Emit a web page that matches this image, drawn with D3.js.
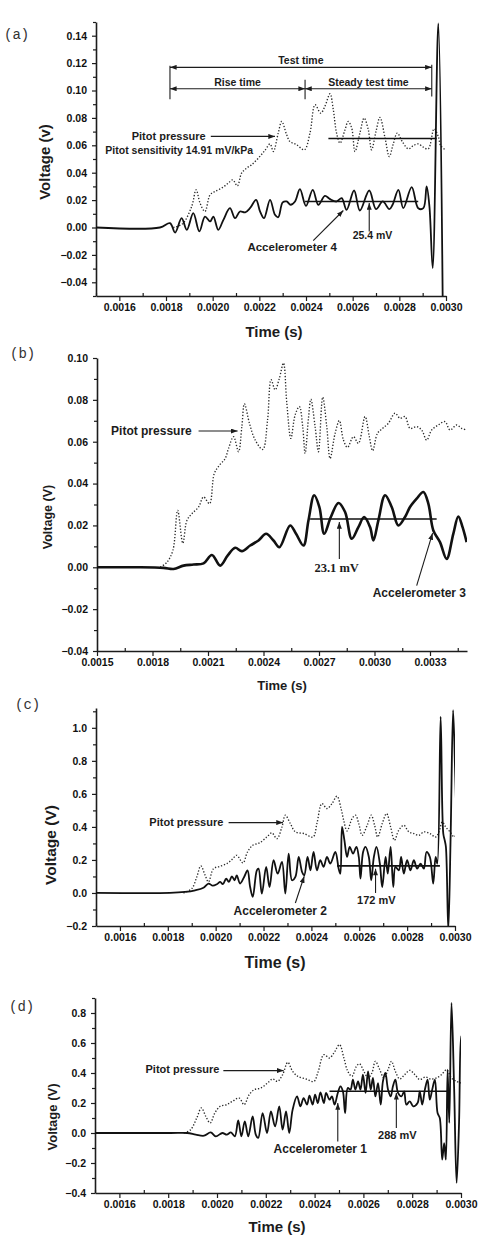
<!DOCTYPE html>
<html>
<head>
<meta charset="utf-8">
<script src="https://cdn.jsdelivr.net/npm/d3@7"></script>
<style>
  body { margin: 0; background: #fff; }
  svg text { font-family: "Liberation Sans", Arial, sans-serif; font-weight: bold; fill: #1c1c1c; }
</style>
</head>
<body>
<div id="chart"></div>
<script>
// ---- panel (a): accelerometer 4 ----
const accelA = [[0.00150,0],[0.001774,0],[0.001817,0.0032],[0.001839,-0.0037],[0.001867,0.0068],[0.001889,-0.0017],[0.001917,0.0105],[0.001943,-0.0029],[0.001967,0.0080],[0.001989,0.0044],[0.002003,0.0080],[0.002024,-0.0017],[0.002046,0.0056],[0.002074,0.0141],[0.002096,0.0068],[0.002117,0.0117],[0.002139,0.0110],[0.002160,0.0141],[0.002186,0.0202],[0.002203,0.0117],[0.002220,0.0068],[0.002246,0.0202],[0.002267,0.0093],[0.002281,0.0075],[0.002300,0.0183],[0.002317,0.0190],[0.002334,0.0166],[0.002353,0.0190],[0.002374,0.0280],[0.002400,0.0158],[0.002429,0.0275],[0.002453,0.0166],[0.002481,0.0231],[0.002503,0.0207],[0.002531,0.0190],[0.002553,0.0214],[0.002574,0.0129],[0.002606,0.0270],[0.002631,0.0124],[0.002671,0.0270],[0.002700,0.0134],[0.002729,0.0190],[0.002757,0.0134],[0.002771,0.0166],[0.002796,0.0275],[0.002817,0.0141],[0.002853,0.0295],[0.002881,0.0141],[0.002903,0.0141],[0.002917,0.0300],[0.002929,0.0153],[0.002943,-0.0297],[0.002967,0.1490],[0.002986,-0.0550]];
const pitotA = [[0.001831,0],[0.001871,0.0027],[0.001910,0.0153],[0.001929,0.0275],[0.001946,0.0178],[0.001967,0.0117],[0.001989,0.0239],[0.002010,0.0263],[0.002039,0.0288],[0.002067,0.0324],[0.002086,0.0348],[0.002106,0.0304],[0.002124,0.0397],[0.002146,0.0434],[0.002167,0.0458],[0.002196,0.0507],[0.002224,0.0563],[0.002246,0.0610],[0.002260,0.0555],[0.002281,0.0689],[0.002296,0.0774],[0.002317,0.0677],[0.002331,0.0628],[0.002360,0.0604],[0.002393,0.0567],[0.002417,0.0689],[0.002439,0.0896],[0.002463,0.0835],[0.002481,0.0884],[0.002503,0.0976],[0.002517,0.0860],[0.002531,0.0689],[0.002546,0.0616],[0.002567,0.0713],[0.002581,0.0774],[0.002596,0.0725],[0.002610,0.0555],[0.002631,0.0689],[0.002649,0.0799],[0.002667,0.0713],[0.002681,0.0567],[0.002700,0.0701],[0.002717,0.0804],[0.002739,0.0652],[0.002757,0.0518],[0.002774,0.0610],[0.002791,0.0689],[0.002814,0.0623],[0.002839,0.0574],[0.002860,0.0598],[0.002881,0.0610],[0.002903,0.0586],[0.002924,0.0574],[0.002949,0.0720],[0.002967,0.0664],[0.002977,0.0598],[0.002996,0.0569]];
const meanA = [[0.002396,0.002881,0.019],[0.002496,0.002960,0.065]];
const xTicksA = [0.0016,0.0018,0.0020,0.0022,0.0024,0.0026,0.0028,0.0030];
const yTicksA = [-0.04,-0.02,0,0.02,0.04,0.06,0.08,0.10,0.12,0.14];
const spansA = [["Test time",0.001817,0.002939,0.1169],["Rise time",0.001817,0.002396,0.1013],["Steady test time",0.002396,0.002939,0.1013]];
const barsA = [[0.001817,0.0937,0.1181],[0.002396,0.0937,0.1079],[0.002939,0.0957,0.1188]];
const labelsA = [["Pitot pressure",0.001653,0.0640,11],["Pitot sensitivity 14.91 mV/kPa",0.001540,0.0540,10.5],["Accelerometer 4",0.002149,-0.0168,11.5],["25.4 mV",0.002600,-0.0085,10.5]];
const arrowsA = [[0.001992,0.0665,0.002267,0.0665],[0.002431,-0.0095,0.002560,0.0124],[0.002671,-0.0029,0.002671,0.0178]];

// ---- panel (b): accelerometer 3 ----
const accelB = [[0.0015,0],[0.001734,0],[0.001860,-0.0003],[0.001914,-0.0008],[0.001968,0.0008],[0.002022,0.0013],[0.002076,0.0019],[0.002121,0.0059],[0.002166,0.0008],[0.002206,0.0056],[0.002247,0.0093],[0.002283,0.0077],[0.002328,0.0104],[0.002373,0.0128],[0.002414,0.0160],[0.002454,0.0128],[0.002486,0.0096],[0.002544,0.0200],[0.002576,0.0160],[0.002616,0.0104],[0.002643,0.0224],[0.002674,0.0344],[0.002702,0.0288],[0.002728,0.0160],[0.002764,0.0240],[0.002805,0.0307],[0.002841,0.0264],[0.002877,0.0136],[0.002913,0.0192],[0.002944,0.0240],[0.002976,0.0192],[0.002994,0.0128],[0.003021,0.0224],[0.003057,0.0344],[0.003093,0.0288],[0.003129,0.0200],[0.003165,0.0240],[0.003192,0.0288],[0.003228,0.0328],[0.003264,0.0360],[0.003291,0.0304],[0.003318,0.0176],[0.003354,0.0120],[0.003390,0.0040],[0.003426,0.0160],[0.003453,0.0243],[0.003476,0.0192],[0.003498,0.0120]];
const pitotB = [[0.001842,0],[0.001878,0.0024],[0.001910,0.0080],[0.001936,0.0272],[0.001964,0.0115],[0.001986,0.0224],[0.002013,0.0256],[0.002049,0.0288],[0.002076,0.0336],[0.002108,0.0304],[0.002134,0.0448],[0.002162,0.0488],[0.002193,0.0520],[0.002211,0.0568],[0.002238,0.0624],[0.002265,0.0552],[0.002283,0.0672],[0.002297,0.0781],[0.002324,0.0688],[0.002355,0.0608],[0.002396,0.0563],[0.002422,0.0704],[0.002441,0.0896],[0.002463,0.0848],[0.002486,0.0904],[0.002508,0.0976],[0.002526,0.0784],[0.002548,0.0616],[0.002571,0.0728],[0.002594,0.0768],[0.002612,0.0672],[0.002625,0.0544],[0.002643,0.0712],[0.002656,0.0803],[0.002679,0.0672],[0.002697,0.0552],[0.002720,0.0813],[0.002742,0.0672],[0.002760,0.0520],[0.002787,0.0640],[0.002810,0.0701],[0.002832,0.0608],[0.002854,0.0573],[0.002886,0.0624],[0.002913,0.0592],[0.002949,0.0720],[0.002972,0.0624],[0.002990,0.0557],[0.003016,0.0640],[0.003044,0.0664],[0.003075,0.0688],[0.003111,0.0736],[0.003138,0.0712],[0.003165,0.0720],[0.003192,0.0664],[0.003228,0.0672],[0.003255,0.0656],[0.003282,0.0608],[0.003309,0.0656],[0.003345,0.0680],[0.003381,0.0696],[0.003408,0.0656],[0.003444,0.0680],[0.003471,0.0664],[0.003498,0.0656]];
const meanB = [[0.002652,0.003336,0.0231]];
const xTicksB = [0.0015,0.0018,0.0021,0.0024,0.0027,0.0030,0.0033];
const yTicksB = [-0.04,-0.02,0,0.02,0.04,0.06,0.08,0.10];
const labelsB = [["Pitot pressure",0.001576,0.0634,12],["Accelerometer 3",0.002990,-0.0141,12]];
const serifLabelsB = [["23.1 mV",0.002675,-0.0024,12.5]];
const arrowsB = [[0.002049,0.0651,0.002260,0.0651],[0.002810,0.0040,0.002810,0.0216],[0.003228,-0.0088,0.003314,0.0163]];

// ---- panel (c): accelerometer 2 ----
const accelC = [[0.0015,0],[0.001809,0],[0.001872,0.006],[0.001914,0.016],[0.001949,0.032],[0.001970,0.057],[0.001988,0.044],[0.002005,0.053],[0.002019,0.067],[0.002030,0.053],[0.002044,0.087],[0.002055,0.067],[0.002068,0.101],[0.002079,0.077],[0.002088,0.107],[0.002102,0.057],[0.002119,0.097],[0.002133,0.137],[0.002144,0.036],[0.002155,-0.024],[0.002172,0.137],[0.002179,0.147],[0.002193,-0.004],[0.002211,0.158],[0.002225,0.036],[0.002242,0.198],[0.002259,0.117],[0.002277,0.188],[0.002291,-0.004],[0.002305,0.238],[0.002319,0.077],[0.002333,0.097],[0.002347,0.218],[0.002361,0.127],[0.002370,0.107],[0.002384,0.218],[0.002396,0.137],[0.002409,0.248],[0.002423,0.137],[0.002437,0.198],[0.002451,0.158],[0.002465,0.218],[0.002479,0.178],[0.002500,0.248],[0.002514,0.147],[0.002521,0.117],[0.002528,0.400],[0.002538,0.319],[0.002549,0.218],[0.002560,0.279],[0.002574,0.238],[0.002588,0.279],[0.002598,0.218],[0.002605,0.087],[0.002616,0.248],[0.002626,0.279],[0.002640,0.218],[0.002650,0.077],[0.002661,0.218],[0.002672,0.279],[0.002686,0.178],[0.002696,0.036],[0.002710,0.218],[0.002719,0.117],[0.002731,0.279],[0.002742,0.036],[0.002751,0.158],[0.002765,0.137],[0.002775,0.218],[0.002786,0.117],[0.002800,0.198],[0.002814,0.137],[0.002828,0.198],[0.002842,0.147],[0.002856,0.178],[0.002870,0.147],[0.002881,0.248],[0.002895,0.218],[0.002909,0.057],[0.002919,0.218],[0.002926,0.178],[0.002940,1.067],[0.002951,0.360],[0.002957,0.319],[0.002962,0.279],[0.002972,-0.226],[0.002982,0.360],[0.002992,1.107],[0.003000,0.764],[0.003004,0.562]];
const pitotC = [[0.001865,0],[0.001900,0.026],[0.001921,0.097],[0.001938,0.164],[0.001956,0.107],[0.001970,0.067],[0.001991,0.147],[0.002019,0.162],[0.002047,0.178],[0.002068,0.202],[0.002088,0.228],[0.002114,0.182],[0.002133,0.248],[0.002155,0.289],[0.002183,0.303],[0.002214,0.339],[0.002235,0.364],[0.002256,0.329],[0.002277,0.400],[0.002291,0.471],[0.002312,0.420],[0.002333,0.370],[0.002368,0.360],[0.002407,0.339],[0.002423,0.420],[0.002444,0.541],[0.002465,0.511],[0.002486,0.541],[0.002507,0.586],[0.002524,0.511],[0.002535,0.440],[0.002549,0.376],[0.002570,0.450],[0.002584,0.471],[0.002598,0.420],[0.002612,0.349],[0.002633,0.410],[0.002650,0.471],[0.002664,0.410],[0.002677,0.339],[0.002696,0.420],[0.002714,0.481],[0.002731,0.400],[0.002747,0.319],[0.002765,0.380],[0.002786,0.410],[0.002807,0.370],[0.002828,0.360],[0.002849,0.349],[0.002870,0.370],[0.002895,0.360],[0.002919,0.339],[0.002933,0.370],[0.002947,0.430],[0.002961,0.400],[0.002979,0.370],[0.002996,0.339],[0.003003,0.349]];
const meanC = [[0.002507,0.002937,0.164]];
const xTicksC = [0.0016,0.0018,0.0020,0.0022,0.0024,0.0026,0.0028,0.0030];
const yTicksC = [-0.2,0,0.2,0.4,0.6,0.8,1.0];
const labelsC = [["Pitot pressure",0.001723,0.404,11],["172 mV",0.002591,-0.069,11],["Accelerometer 2",0.002075,-0.133,12]];
const arrowsC = [[0.002054,0.426,0.002281,0.426],[0.002668,0.000,0.002668,0.147],[0.002333,-0.061,0.002370,0.101]];

// ---- panel (d): accelerometer 1 ----
const accelD = [[0.0015,0],[0.001810,0],[0.001878,0],[0.001913,-0.011],[0.001947,-0.018],[0.001974,0.004],[0.001995,-0.022],[0.002022,0],[0.002040,-0.011],[0.002057,0.004],[0.002073,-0.022],[0.002087,0.084],[0.002100,-0.022],[0.002114,0.078],[0.002128,-0.022],[0.002146,0.111],[0.002159,-0.011],[0.002169,-0.033],[0.002187,0.133],[0.002205,0],[0.002221,0.144],[0.002238,0.044],[0.002255,0.178],[0.002269,0.022],[0.002283,0.144],[0.002296,0],[0.002310,0.156],[0.002328,0.244],[0.002342,0.178],[0.002355,0.233],[0.002369,0.189],[0.002379,0.249],[0.002392,0.189],[0.002402,0.256],[0.002413,0.200],[0.002424,0.271],[0.002438,0.200],[0.002447,0.267],[0.002461,0.222],[0.002471,0.244],[0.002482,0.189],[0.002495,0.267],[0.002506,0.311],[0.002516,0.278],[0.002525,0.133],[0.002536,0.300],[0.002547,0.289],[0.002557,0.356],[0.002567,0.289],[0.002578,0.344],[0.002588,0.289],[0.002598,0.389],[0.002609,0.267],[0.002619,0.411],[0.002630,0.289],[0.002639,0.367],[0.002649,0.244],[0.002660,0.333],[0.002671,0.189],[0.002680,0.344],[0.002690,0.400],[0.002701,0.289],[0.002712,0.244],[0.002721,0.311],[0.002731,0.356],[0.002742,0.267],[0.002756,0.244],[0.002767,0.278],[0.002776,0.189],[0.002790,0.211],[0.002804,0.178],[0.002822,0.200],[0.002831,0.278],[0.002841,0.189],[0.002852,0.289],[0.002863,0.356],[0.002872,0.222],[0.002882,0.289],[0.002893,0.356],[0.002904,0.133],[0.002913,0.100],[0.002923,-0.178],[0.002931,-0.067],[0.002938,-0.178],[0.002945,0.422],[0.002952,0.067],[0.002961,0.867],[0.002972,0.289],[0.002982,-0.333],[0.002992,0.067],[0.003000,0.644],[0.003005,0.600]];
const pitotD = [[0.001865,0],[0.001892,0.022],[0.001917,0.100],[0.001936,0.167],[0.001954,0.111],[0.001972,0.067],[0.001991,0.133],[0.002013,0.178],[0.002040,0.189],[0.002063,0.211],[0.002091,0.233],[0.002111,0.189],[0.002132,0.256],[0.002153,0.289],[0.002180,0.300],[0.002207,0.333],[0.002228,0.360],[0.002248,0.344],[0.002269,0.389],[0.002290,0.471],[0.002310,0.411],[0.002331,0.378],[0.002365,0.360],[0.002397,0.344],[0.002413,0.400],[0.002438,0.522],[0.002461,0.500],[0.002479,0.533],[0.002502,0.589],[0.002520,0.500],[0.002536,0.411],[0.002553,0.378],[0.002571,0.444],[0.002584,0.462],[0.002602,0.411],[0.002619,0.367],[0.002635,0.400],[0.002649,0.478],[0.002667,0.422],[0.002684,0.367],[0.002701,0.422],[0.002715,0.478],[0.002731,0.411],[0.002749,0.360],[0.002769,0.389],[0.002790,0.418],[0.002811,0.389],[0.002831,0.356],[0.002854,0.373],[0.002876,0.360],[0.002900,0.367],[0.002920,0.389],[0.002941,0.422],[0.002961,0.367],[0.002982,0.344],[0.003003,0.333]];
const meanD = [[0.002461,0.002955,0.278]];
const xTicksD = [0.0016,0.0018,0.0020,0.0022,0.0024,0.0026,0.0028,0.0030];
const yTicksD = [-0.4,-0.2,0,0.2,0.4,0.6,0.8];
const labelsD = [["Pitot pressure",0.001707,0.398,11],["288 mV",0.002660,-0.042,11],["Accelerometer 1",0.002232,-0.133,12]];
const arrowsD = [[0.002026,0.416,0.002273,0.416],[0.002735,0.033,0.002735,0.267],[0.002495,-0.056,0.002495,0.200]];

const W = 480, H = 1242;
const svg = d3.select("#chart").append("svg").attr("width", W).attr("height", H);

const defs = svg.append("defs");
defs.append("marker")
  .attr("id", "arrow")
  .attr("viewBox", "0 0 8 6")
  .attr("refX", 8).attr("refY", 3)
  .attr("markerWidth", 7).attr("markerHeight", 5)
  .attr("markerUnits", "userSpaceOnUse")
  .attr("orient", "auto-start-reverse")
  .append("path").attr("d", "M0,0L8,3L0,6Z").attr("fill", "#1c1c1c");

function drawPanel(p) {
  const x = d3.scaleLinear().domain(p.xDomain).range([p.left, p.right]);
  const y = d3.scaleLinear().domain(p.yDomain).range([p.bottom, p.top]);
  const g = svg.append("g");

  defs.append("clipPath").attr("id", "clip-" + p.id)
    .append("rect")
    .attr("x", p.left).attr("y", p.top - 1)
    .attr("width", p.right - p.left).attr("height", p.bottom - p.top + 1);

  // minor ticks first so major ones sit on top
  const halfX = (p.xTicks[1] - p.xTicks[0]) / 2;
  const minorX = d3.range(p.xDomain[0], p.xDomain[1] + 1e-9, halfX)
    .filter(v => !p.xTicks.some(t => Math.abs(t - v) < 1e-9));
  g.append("g").attr("class", "minor")
    .attr("transform", `translate(0,${p.bottom})`)
    .call(d3.axisTop(x).tickValues(minorX).tickFormat("").tickSizeInner(3).tickSizeOuter(0));

  const halfY = (p.yTicks[1] - p.yTicks[0]) / 2;
  const minorY = d3.range(p.yDomain[0], p.yDomain[1] + 1e-9, halfY)
    .filter(v => !p.yTicks.some(t => Math.abs(t - v) < 1e-9));
  g.append("g").attr("class", "minor")
    .attr("transform", `translate(${p.left},0)`)
    .call(d3.axisLeft(y).tickValues(minorY).tickFormat("").tickSizeInner(3).tickSizeOuter(0));

  g.append("g")
    .attr("transform", `translate(0,${p.bottom})`)
    .call(d3.axisBottom(x).tickValues(p.xTicks).tickFormat(d3.format(".4f"))
      .tickSizeInner(5).tickSizeOuter(0).tickPadding(3));

  g.append("g")
    .attr("transform", `translate(${p.left},0)`)
    .call(d3.axisLeft(y).tickValues(p.yTicks).tickFormat(d3.format(p.yFmt))
      .tickSizeInner(4).tickSizeOuter(0).tickPadding(5));

  g.selectAll(".domain").attr("stroke", "#1c1c1c").attr("stroke-width", 1.6);
  g.selectAll(".tick line").attr("stroke", "#1c1c1c").attr("stroke-width", 1.2);
  g.selectAll(".minor .domain").remove();
  g.selectAll(".tick text")
    .style("font-size", "10.5px").style("fill", "#111")
    .style("font-family", "Liberation Sans, Arial, sans-serif").style("font-weight", "bold");

  // axis titles
  g.append("text")
    .attr("x", p.xTitle[0]).attr("y", p.xTitle[1])
    .attr("text-anchor", "middle").attr("font-size", p.xTitle[2] + "px")
    .text("Time (s)");
  g.append("text")
    .attr("transform", `translate(${p.yTitle[0]},${p.yTitle[1]}) rotate(-90)`)
    .attr("text-anchor", "middle").attr("font-size", p.yTitle[2] + "px")
    .text(p.yLabel);

  // panel letter
  svg.append("text")
    .attr("x", p.tag[0]).attr("y", p.tag[1])
    .attr("font-size", "14px")
    .style("font-family", "Liberation Mono, Courier New, monospace")
    .style("font-weight", "normal")
    .style("fill", "#333")
    .text("(" + p.id + ")");

  const line = d3.line()
    .curve(d3.curveCatmullRom.alpha(0.5))
    .x(d => x(d[0]))
    .y(d => y(d[1]));

  const plot = g.append("g").attr("clip-path", `url(#clip-${p.id})`);

  plot.append("path")
    .datum(p.pitot)
    .attr("fill", "none")
    .attr("stroke", "#2a2a2a")
    .attr("stroke-width", 1.35)
    .attr("stroke-dasharray", "1.3,1.8")
    .attr("d", line);

  plot.append("path")
    .datum(p.accel)
    .attr("fill", "none")
    .attr("stroke", "#111")
    .attr("stroke-width", p.accelWidth)
    .attr("stroke-linejoin", "round")
    .attr("d", line);

  p.means.forEach(m => {
    plot.append("line")
      .attr("x1", x(m[0])).attr("x2", x(m[1]))
      .attr("y1", y(m[2])).attr("y2", y(m[2]))
      .attr("stroke", "#111").attr("stroke-width", 1.6);
  });

  (p.spans || []).forEach(s => {
    g.append("line")
      .attr("x1", x(s[1])).attr("x2", x(s[2]))
      .attr("y1", y(s[3])).attr("y2", y(s[3]))
      .attr("stroke", "#1c1c1c").attr("stroke-width", 1.1)
      .attr("marker-start", "url(#arrow)").attr("marker-end", "url(#arrow)");
    g.append("text")
      .attr("x", x((s[1] + s[2]) / 2)).attr("y", y(s[3]) - 3)
      .attr("text-anchor", "middle").attr("font-size", "10.5px")
      .text(s[0]);
  });

  (p.bars || []).forEach(b => {
    g.append("line")
      .attr("x1", x(b[0])).attr("x2", x(b[0]))
      .attr("y1", y(b[1])).attr("y2", y(b[2]))
      .attr("stroke", "#1c1c1c").attr("stroke-width", 1.1);
  });

  p.arrows.forEach(a => {
    g.append("line")
      .attr("x1", x(a[0])).attr("y1", y(a[1]))
      .attr("x2", x(a[2])).attr("y2", y(a[3]))
      .attr("stroke", "#1c1c1c").attr("stroke-width", 1.1)
      .attr("marker-end", "url(#arrow)");
  });

  p.labels.forEach(l => {
    g.append("text")
      .attr("x", x(l[1])).attr("y", y(l[2]))
      .attr("font-size", l[3] + "px")
      .text(l[0]);
  });

  (p.serifLabels || []).forEach(l => {
    g.append("text")
      .attr("x", x(l[1])).attr("y", y(l[2]))
      .attr("font-size", l[3] + "px")
      .style("font-family", "Liberation Serif, Times New Roman, serif")
      .text(l[0]);
  });
}

drawPanel({
  id: "a", left: 96, right: 446, top: 22, bottom: 296,
  xDomain: [0.0015, 0.0030], yDomain: [-0.05, 0.15],
  xTicks: xTicksA, yTicks: yTicksA, yFmt: ".2f",
  xTitle: [274, 337, 15], yTitle: [50, 162, 15], yLabel: "Voltage (v)", tag: [4, 39],
  accel: accelA, pitot: pitotA, means: meanA, accelWidth: 1.8,
  spans: spansA, bars: barsA, labels: labelsA, arrows: arrowsA
});

drawPanel({
  id: "b", left: 97, right: 467, top: 358, bottom: 651,
  xDomain: [0.0015, 0.0035], yDomain: [-0.04, 0.10],
  xTicks: xTicksB, yTicks: yTicksB, yFmt: ".2f",
  xTitle: [282, 690, 13], yTitle: [52, 517, 12.5], yLabel: "Voltage (V)", tag: [10, 358],
  accel: accelB, pitot: pitotB, means: meanB, accelWidth: 2.6,
  labels: labelsB, serifLabels: serifLabelsB, arrows: arrowsB
});

drawPanel({
  id: "c", left: 96, right: 455, top: 708, bottom: 926,
  xDomain: [0.0015, 0.0030], yDomain: [-0.2, 1.12],
  xTicks: xTicksC, yTicks: yTicksC, yFmt: ".1f",
  xTitle: [275, 968, 16], yTitle: [56, 845, 15.5], yLabel: "Voltage (V)", tag: [15, 709],
  accel: accelC, pitot: pitotC, means: meanC, accelWidth: 1.8,
  labels: labelsC, arrows: arrowsC
});

drawPanel({
  id: "d", left: 95, right: 461, top: 998, bottom: 1193,
  xDomain: [0.0015, 0.0030], yDomain: [-0.4, 0.9],
  xTicks: xTicksD, yTicks: yTicksD, yFmt: ".1f",
  xTitle: [277, 1232, 15], yTitle: [57, 1117, 13], yLabel: "Voltage (V)", tag: [9, 1011],
  accel: accelD, pitot: pitotD, means: meanD, accelWidth: 1.8,
  labels: labelsD, arrows: arrowsD
});
</script>
</body>
</html>
